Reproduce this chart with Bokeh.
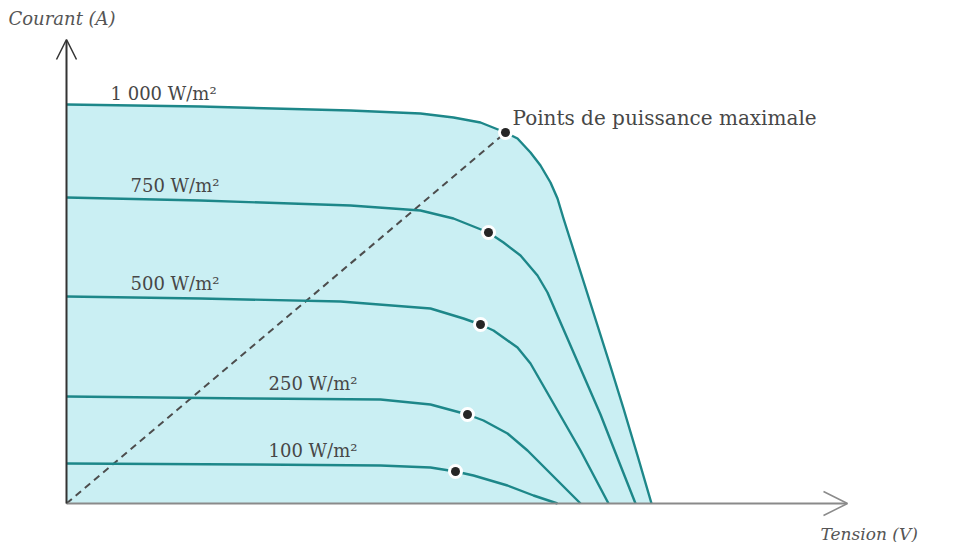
from bokeh.plotting import figure
from bokeh.models import Range1d, Arrow, OpenHead, Label
from bokeh.embed import file_html
from bokeh.resources import INLINE

# I-V characteristics of a PV module for several irradiance levels
# voltage (V) and current (A) samples along each curve
v_1000 = [0, 13.4, 28.4, 35.4, 38.7, 41.4, 43.9, 45.1, 46.4, 47.4, 48.4, 49.1, 49.7,
          50.4, 51.1, 51.8, 53.1, 54.4, 55.7, 57.1, 58.5]
i_1000 = [9.975, 9.925, 9.825, 9.75, 9.65, 9.525, 9.275, 9.125, 8.775, 8.45, 8.025, 7.625,
          7.125, 6.575, 6.025, 5.475, 4.45, 3.425, 2.375, 1.2, 0]

v_750 = [0, 13.4, 28.4, 35.4, 38.7, 42.2, 43.7, 45.4, 47.1, 48.1, 49.4, 51.4, 53.4, 55.2, 56.9]
i_750 = [7.65, 7.575, 7.45, 7.325, 7.125, 6.775, 6.525, 6.2, 5.7, 5.275, 4.525, 3.375, 2.225, 1.075, 0]

v_500 = [0, 13.4, 27.4, 36.4, 39.7, 41.4, 42.7, 45.1, 46.4, 48.7, 51.4, 54.2]
i_500 = [5.175, 5.125, 5.05, 4.875, 4.625, 4.475, 4.325, 3.9, 3.5, 2.5, 1.325, 0]

v_250 = [0, 18.4, 31.4, 36.4, 40.1, 41.7, 44.1, 46.1, 48.1, 50.1, 51.4]
i_250 = [2.675, 2.625, 2.6, 2.475, 2.225, 2.075, 1.75, 1.325, 0.825, 0.325, 0]

v_100 = [0, 18.4, 31.4, 36.4, 38.9, 40.7, 44.1, 46.7, 49.1]
i_100 = [1.0, 0.975, 0.95, 0.9, 0.8, 0.7, 0.45, 0.2, 0]

# maximum power points (1000, 750, 500, 250, 100 W/m²)
mpp_v = [43.9, 42.2, 41.4, 40.1, 38.9]
mpp_i = [9.275, 6.775, 4.475, 2.225, 0.8]

irradiance_labels = ["1 000 W/m²", "750 W/m²", "500 W/m²", "250 W/m²", "100 W/m²"]

TEAL = "#1d8789"
FILL = "#caeff3"
SERIF = "DejaVu Serif"

p = figure(width=959, height=542, output_backend="svg", toolbar_location=None,
           x_range=Range1d(-6.6, 89.3), y_range=Range1d(-0.975, 12.575),
           x_axis_type=None, y_axis_type=None, min_border=0)
p.grid.visible = False
p.outline_line_color = None
p.background_fill_color = "white"

# shaded operating area under the 1000 W/m² curve
p.varea(x=v_1000, y1=0, y2=i_1000, fill_color=FILL, fill_alpha=1.0)

# axes drawn as arrows
p.add_layout(Arrow(end=OpenHead(size=24, line_color="#8a8a8a", line_width=1.5),
                   x_start=0, y_start=0, x_end=78.1, y_end=0,
                   line_color="#8a8a8a", line_width=1.8))
p.add_layout(Arrow(end=OpenHead(size=20, line_color="#333333", line_width=1.5),
                   x_start=0, y_start=0, x_end=0, y_end=11.6,
                   line_color="#333333", line_width=2))

# dashed locus through the maximum power point
p.line(x=[0, mpp_v[0]], y=[0, mpp_i[0]], line_color="#4d4d4d",
       line_width=2, line_dash="7 5")

for vs, cs in [(v_1000, i_1000), (v_750, i_750), (v_500, i_500),
               (v_250, i_250), (v_100, i_100)]:
    p.line(x=vs, y=cs, line_color=TEAL, line_width=2.4, line_join="round")

p.scatter(x=mpp_v, y=mpp_i, size=15, fill_color="white", line_color=None)
p.scatter(x=mpp_v, y=mpp_i, size=9, fill_color="#262626", line_color=None)

label_pos = [(4.4, 10.25), (6.4, 7.95), (6.4, 5.5), (20.2, 3.0), (20.2, 1.325)]
for txt, (lx, ly) in zip(irradiance_labels, label_pos):
    p.add_layout(Label(x=lx, y=ly, text=txt, text_font=SERIF, text_font_size="18px",
                       text_color="#474747", text_baseline="middle"))

p.add_layout(Label(x=44.6, y=9.65, text="Points de puissance maximale",
                   text_font=SERIF, text_font_size="20px", text_color="#474747",
                   text_baseline="middle"))
p.add_layout(Label(x=-5.8, y=12.125, text="Courant (A)", text_font=SERIF,
                   text_font_style="italic", text_font_size="18px",
                   text_color="#555555", text_baseline="middle"))
p.add_layout(Label(x=75.4, y=-0.75, text="Tension (V)", text_font=SERIF,
                   text_font_style="italic", text_font_size="17px",
                   text_color="#555555", text_baseline="middle"))

open("out.html", "w").write(file_html(p, INLINE))
